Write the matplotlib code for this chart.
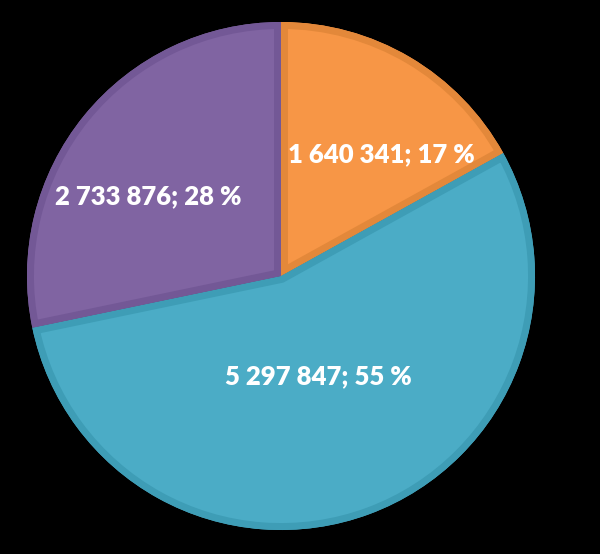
import matplotlib.pyplot as plt
from matplotlib.patches import Wedge
import numpy as np

values = [1640341, 5297847, 2733876]
labels = ['1 640 341; 17 %', '5 297 847; 55 %', '2 733 876; 28 %']
colors = ['#F79646', '#4BACC6', '#8064A2']
edge_colors = ['#E3883A', '#3E9DB6', '#735896']
label_dist = [0.62, 0.42, 0.61]
label_shift = [-9, 0, 8]  # degrees, nudge like the original layout

fig = plt.figure(figsize=(6, 5.54), dpi=100, facecolor='black')
ax = fig.add_axes([0, 0, 1, 1])
ax.set_facecolor('black')

cx, cy, r = 281, 278, 254
wedges, _ = ax.pie(values, colors=colors, startangle=90, counterclock=False,
                   center=(cx, cy), radius=r, frame=True,
                   wedgeprops=dict(linewidth=0))
ax.set_xlim(0, 600)
ax.set_ylim(0, 554)
ax.set_aspect('equal')
ax.axis('off')

# darker inner border on every slice
for w, ec in zip(wedges, edge_colors):
    rim = Wedge(w.center, w.r, w.theta1, w.theta2, facecolor='none',
                edgecolor=ec, linewidth=10)
    ax.add_patch(rim)
    rim.set_clip_path(w.get_path(), w.get_transform())

for w, lab, d, s in zip(wedges, labels, label_dist, label_shift):
    mid = np.deg2rad((w.theta1 + w.theta2) / 2 + s)
    ax.text(cx + d * r * np.cos(mid), cy + d * r * np.sin(mid), lab,
            color='white', fontsize=18.5, fontweight='heavy', family='Lato',
            ha='center', va='center', zorder=5)

plt.savefig('out.png', dpi=100, facecolor='black')
